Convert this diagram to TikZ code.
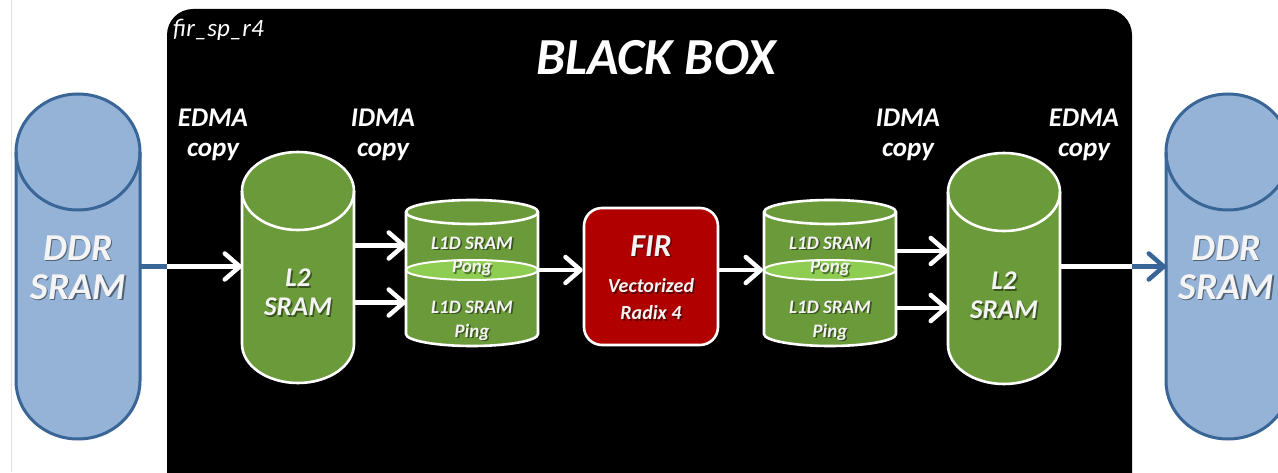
\documentclass[tikz,border=0pt]{standalone}
\usepackage{fontspec}
\setmainfont{Carlito}
\usetikzlibrary{arrows.meta,shapes.geometric}

\definecolor{ddrfill}{HTML}{95B3D7}
\definecolor{ddredge}{HTML}{3A6597}
\definecolor{memgreen}{HTML}{6B9A3A}
\definecolor{pongglow}{HTML}{8FCC52}
\definecolor{firred}{HTML}{B00000}
\definecolor{labelgrey}{HTML}{F4F4F4}

\newcommand\fsz[1]{\fontsize{#1}{#1}\selectfont\bfseries\itshape}

% cylinder: name, centre x, top y, bottom y, x radius, y radius, style
\newcommand\drum[7]{%
  \path[#7] (#2-#5,#3-#6) -- (#2-#5,#4+#6)
     arc[start angle=180,end angle=360,x radius=#5,y radius=#6]
     -- (#2+#5,#3-#6)
     arc[start angle=0,end angle=180,x radius=#5,y radius=#6] -- cycle;
  \path[#7,fill=none] (#2-#5,#3-#6)
     arc[start angle=180,end angle=360,x radius=#5,y radius=#6];
  \node[anchorbox,minimum width={2*#5},minimum height={#3-#4}] (#1) at (#2,{(#3+#4)/2}) {};}

% label with a soft drop shadow: name, x-y position, font size, text
\newcommand\shlabel[4]{%
  \node[text=black,opacity=0.45,font=\fsz{#3}] (#1s) at ([shift={(1.6,-1.6)}]#2) {#4};
  \node[text=labelgrey,font=\fsz{#3}] (#1) at (#2) {#4};}

\tikzset{
  x=1pt, y=1pt,
  anchorbox/.style={inner sep=0pt, outer sep=0pt, draw=none, fill=none},
  ddrcyl/.style={fill=ddrfill, draw=ddredge, line width=3},
  greencyl/.style={fill=memgreen, draw=white, line width=2.6},
  pongdisc/.style={ellipse, fill=pongglow, draw=white, line width=2, inner sep=0pt},
  firbox/.style={rectangle, rounded corners=18, fill=firred, draw=white, line width=2.6, inner sep=0pt},
  blackbox/.style={rectangle, rounded corners=26, fill=black, inner sep=0pt},
  flow/.style={white, line width=4.5, -{Straight Barb[length=15, width=26, round]}},
  ddrlink/.style={ddredge, line width=4.5},
  dmatext/.style={text=white, font=\fsz{27}, inner sep=0pt},
}

\begin{document}
\begin{tikzpicture}
\path[use as bounding box, fill=white] (0,0) rectangle (1278,472);
\clip (0,0) rectangle (1278,472);
\draw[black!12, line width=1] (11,0) -- (11,472);

% the black box
\node[blackbox, minimum width=965, minimum height=493] (box) at (649.5,216.5) {};
\node[text=white, font=\fontsize{25}{25}\selectfont\itshape, anchor=west, inner sep=0pt] (tag) at (173,442) {fir\_sp\_r4};
\node[text=white, font=\fsz{52}, inner sep=0pt] (title) at (656,414) {BLACK BOX};

% external memories
\drum{ddrL}{78}{378}{33}{62}{58}{ddrcyl}
\drum{ddrR}{1228}{378}{33}{62}{58}{ddrcyl}

% L2 memories
\drum{l2L}{298}{320}{89}{56}{39}{greencyl}
\drum{l2R}{1004}{319}{88}{56}{39}{greencyl}

% L1D ping-pong buffers
\drum{l1L}{472}{272}{126}{66}{12}{greencyl}
\node[pongdisc, minimum width=132, minimum height=20] (pongL) at (472,202) {};
\drum{l1R}{830}{272}{126}{66}{12}{greencyl}
\node[pongdisc, minimum width=132, minimum height=20] (pongR) at (830,202) {};

% kernel
\node[firbox, minimum width=134, minimum height=137] (fir) at (651,195.5) {};

% labels
\shlabel{ddrLa}{78,224}{38}{DDR}
\shlabel{ddrLb}{78,185}{38}{SRAM}
\shlabel{ddrRa}{1226,224}{38}{DDR}
\shlabel{ddrRb}{1226,185}{38}{SRAM}
\shlabel{l2La}{298,194}{27}{L2}
\shlabel{l2Lb}{298,165}{27}{SRAM}
\shlabel{l2Ra}{1004,191}{27}{L2}
\shlabel{l2Rb}{1004,162}{27}{SRAM}
\shlabel{l1La}{472,229}{19}{L1D SRAM}
\shlabel{l1Lb}{472,204}{19}{Pong}
\shlabel{l1Lc}{472,165}{19}{L1D SRAM}
\shlabel{l1Ld}{472,140}{19}{Ping}
\shlabel{l1Ra}{830,229}{19}{L1D SRAM}
\shlabel{l1Rb}{830,204}{19}{Pong}
\shlabel{l1Rc}{830,165}{19}{L1D SRAM}
\shlabel{l1Rd}{830,140}{19}{Ping}
\shlabel{firA}{651,226}{32}{FIR}
\shlabel{firB}{651,186}{20}{Vectorized}
\shlabel{firC}{651,159}{20}{Radix 4}

\node[dmatext] (edmaL) at (213,354) {EDMA};
\node[dmatext] (edmaLc) at (213,320) {copy};
\node[dmatext] (idmaL) at (383,354) {IDMA};
\node[dmatext] (idmaLc) at (383,320) {copy};
\node[dmatext] (idmaR) at (908,354) {IDMA};
\node[dmatext] (idmaRc) at (908,320) {copy};
\node[dmatext] (edmaR) at (1084,354) {EDMA};
\node[dmatext] (edmaRc) at (1084,320) {copy};

% data flow
\draw[flow] (ddrL.east) -- (ddrL.east -| l2L.west);
\draw[ddrlink] (ddrL.east) -- (ddrL.east -| box.west);
\draw[flow] ([yshift=22]l2L.east) -- ([yshift=22]l2L.east -| l1L.west);
\draw[flow] ([yshift=-35]l2L.east) -- ([yshift=-35]l2L.east -| l1L.west);
\draw[flow] (pongL.east) -- (pongL.east -| fir.west);
\draw[flow] (fir.east |- pongR.west) -- (pongR.west);
\draw[flow] ([yshift=22]l1R.east) -- ([yshift=22]l1R.east -| l2R.west);
\draw[flow] ([yshift=-35]l1R.east) -- ([yshift=-35]l1R.east -| l2R.west);
\draw[white, line width=4.5] (l2R.east |- ddrR.west) -- (box.east |- ddrR.west);
\draw[ddrlink, -{Straight Barb[length=15, width=26, round]}] (box.east |- ddrR.west) -- (ddrR.west);
\end{tikzpicture}
\end{document}
